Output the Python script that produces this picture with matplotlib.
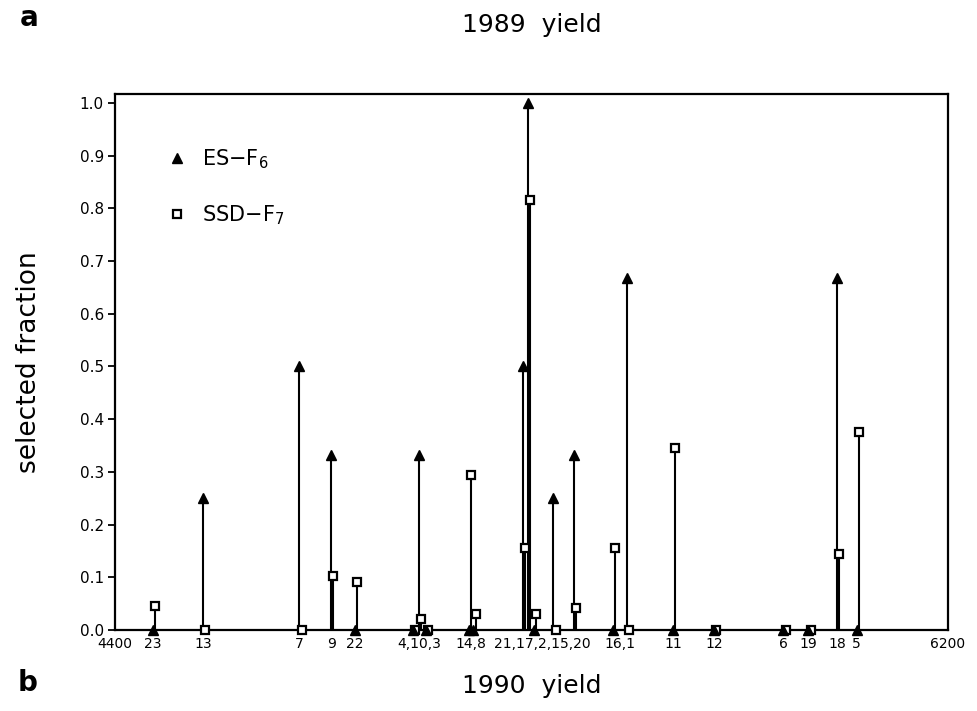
import matplotlib
matplotlib.use("Agg")
import matplotlib.pyplot as plt

# genotypes ordered by 1990 yield
genotypes = ["23", "13", "7", "9", "22", "4", "10", "3", "14", "8",
             "21", "17", "2", "15", "20", "16", "1", "11", "12", "6",
             "19", "18", "5"]
yield_1990 = [4482, 4590, 4798, 4867, 4919, 5044, 5057, 5072, 5165, 5174,
              5282, 5292, 5305, 5347, 5392, 5476, 5506, 5606, 5694, 5844,
              5898, 5960, 6003]
es_f6 = [0.0, 0.25, 0.5, 0.333, 0.0, 0.0, 0.333, 0.0, 0.0, 0.0,
         0.5, 1.0, 0.0, 0.25, 0.333, 0.0, 0.667, 0.0, 0.0, 0.0,
         0.0, 0.667, 0.0]
ssd_f7 = [0.046, 0.0, 0.0, 0.103, 0.092, 0.0, 0.02, 0.0, 0.295, 0.03,
          0.155, 0.815, 0.03, 0.0, 0.042, 0.155, 0.0, 0.345, 0.0, 0.0,
          0.0, 0.145, 0.375]

# genotypes sharing one axis label
label_groups = [["23"], ["13"], ["7"], ["9"], ["22"], ["4", "10", "3"],
                ["14", "8"], ["21", "17", "2", "15", "20"], ["16", "1"],
                ["11"], ["12"], ["6"], ["19"], ["18"], ["5"]]
x_min, x_max = 4400, 6200

fig = plt.figure(figsize=(9.78, 7.11), dpi=100)
ax = fig.add_axes([0.1176, 0.1139, 0.8517, 0.7539])

off = 5  # small shift so the two stems of one genotype sit side by side
ssd_x = [x + off for x in yield_1990]

ax.vlines(yield_1990, 0, es_f6, color="black", lw=1.5, zorder=2)
ax.vlines(ssd_x, 0, ssd_f7, color="black", lw=1.5, zorder=2)
ax.plot(ssd_x, ssd_f7, ls="none", marker="s", ms=6, mfc="white",
        mec="black", mew=1.6, zorder=3, clip_on=False, label=r"SSD$-$F$_7$")
ax.plot(yield_1990, es_f6, ls="none", marker="^", ms=7.5, color="black",
        zorder=4, clip_on=False, label=r"ES$-$F$_6$")

ax.set_xlim(x_min, x_max)
ax.set_ylim(0, 1.017)

# tick labels: one per group, at mean position of the group
pos = dict(zip(genotypes, yield_1990))
tick_pos = [x_min]
tick_lab = [str(x_min)]
for g in label_groups:
    tick_pos.append(sum(pos[n] for n in g) / len(g))
    tick_lab.append(",".join(g))
tick_pos.append(x_max)
tick_lab.append(str(x_max))
ax.set_xticks(tick_pos)
ax.set_xticklabels(tick_lab, fontsize=10)
ax.tick_params(axis="x", length=0, pad=5)
ax.set_xticks([x_min, x_max], minor=True)
ax.tick_params(axis="x", which="minor", length=6, width=1.5, direction="out")

ax.set_yticks([i / 10 for i in range(11)])
ax.set_yticklabels(["%.1f" % (i / 10) for i in range(11)], fontsize=11)
ax.tick_params(axis="y", length=5, width=1.3, direction="out", pad=3)

for s in ax.spines.values():
    s.set_linewidth(1.6)

ax.set_ylabel("selected fraction", fontsize=19)
ax.yaxis.set_label_coords(-0.088, 0.5)
ax.set_xlabel("1990  yield", fontsize=18)
ax.xaxis.set_label_coords(0.5, -0.082)

handles, labels = ax.get_legend_handles_labels()
ax.legend(handles[::-1], labels[::-1], loc="upper left",
          bbox_to_anchor=(0.04, 0.935), frameon=False, fontsize=15,
          labelspacing=1.55, handlelength=1.0, handletextpad=0.7)

fig.text(0.544, 0.965, "1989  yield", fontsize=18, ha="center", va="center")
fig.text(0.02, 0.975, "a", fontsize=20, fontweight="bold", va="center")
fig.text(0.018, 0.04, "b", fontsize=20, fontweight="bold", va="center")

fig.savefig("out.png", dpi=100)
